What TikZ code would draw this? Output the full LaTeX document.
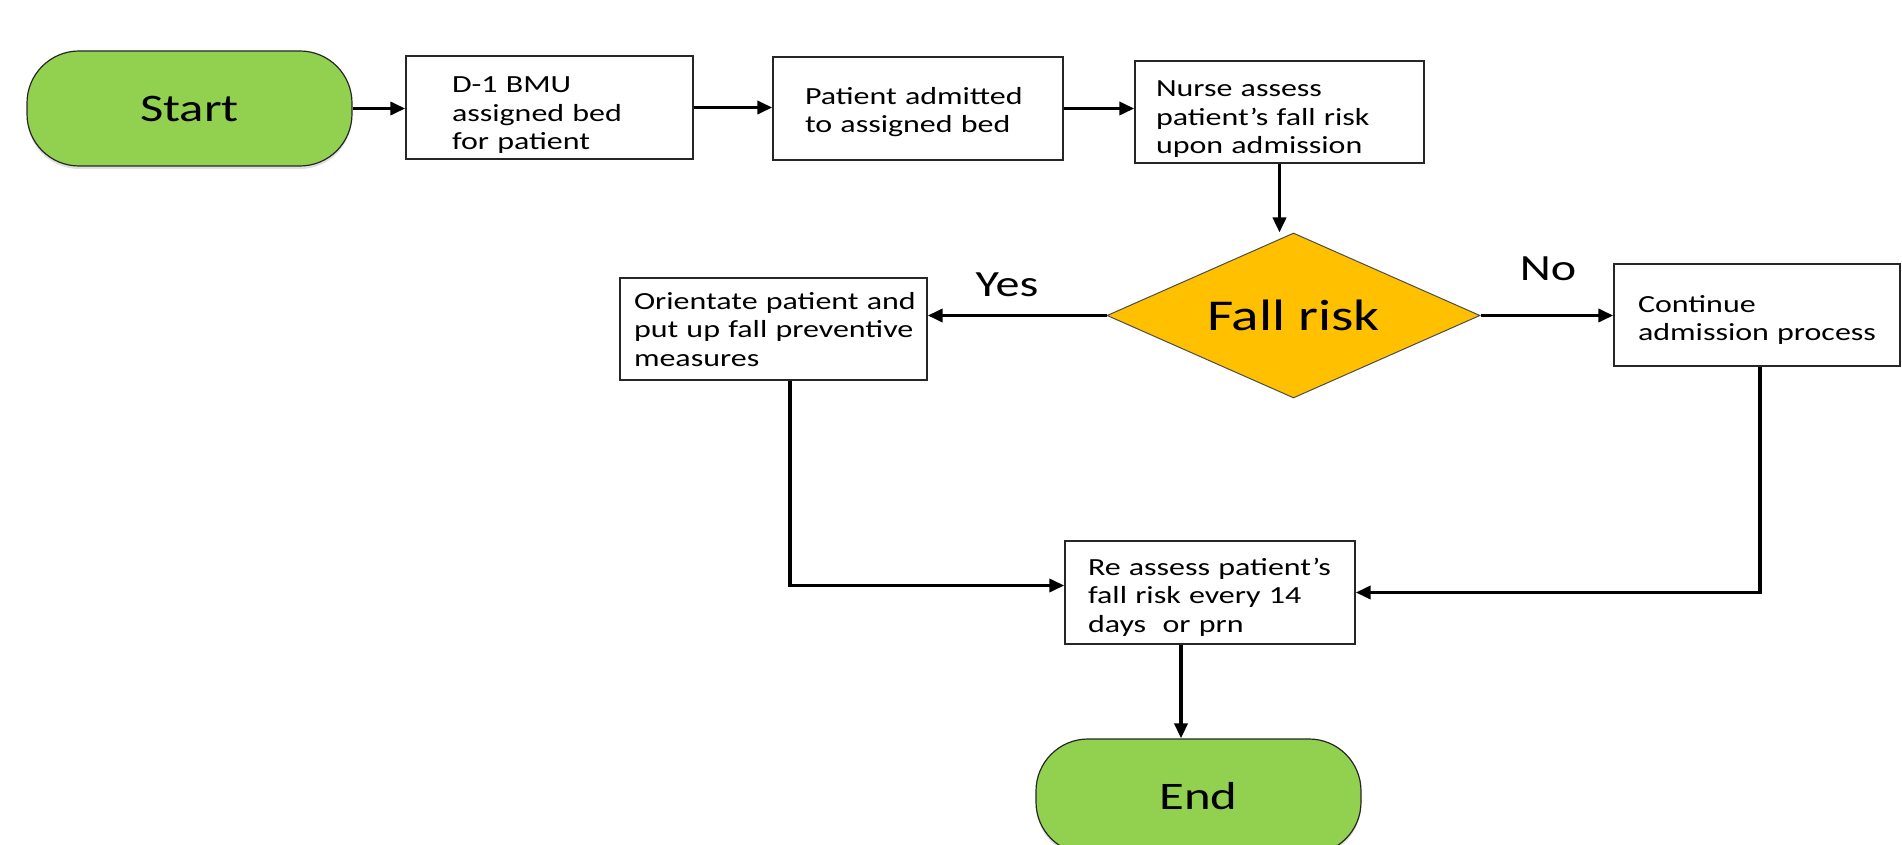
\documentclass[tikz,border=0pt]{standalone}
\usepackage{fontspec}
\setmainfont{Carlito}[FakeStretch=1.3]
\usetikzlibrary{shapes.geometric,arrows.meta,shadows}
\definecolor{termgreen}{HTML}{92D050}
\definecolor{decgold}{HTML}{FFC000}
\newcommand\firstlnraise[1]{\rule{0pt}{\dimexpr 9pt+#1\relax}}
\begin{document}
\begin{tikzpicture}[x=0.5pt,y=-0.5pt,
  terminal/.style={draw=black!85, line width=0.6pt, fill=termgreen, rounded corners=26pt,
    minimum width=162.5pt, minimum height=57.5pt, inner sep=0pt,
    font=\fontsize{19.5}{23}\selectfont,
    drop shadow={opacity=0.25, shadow xshift=0pt, shadow yshift=-1.5pt}},
  procbox/.style={draw=black!85, line width=0.7pt, fill=white, minimum height=51.5pt,
    align=left, inner ysep=1pt, font=\fontsize{12.3}{14.2}\selectfont},
  decision/.style={diamond, draw=black!70, line width=0.5pt, fill=decgold,
    shape aspect=2.26, minimum width=186.5pt, minimum height=82.5pt, inner sep=0pt,
    font=\fontsize{22}{26}\selectfont},
  flow/.style={line width=1.8pt, -{Triangle[length=7.5pt,width=6.5pt]}},
  lbl/.style={font=\fontsize{18.5}{22}\selectfont, inner sep=0pt}]
\useasboundingbox (0,0) rectangle (1902,845);

\node[terminal] (start) at (189.5,108.5) {Start};
\node[procbox, text width=97.5pt, inner xsep=23pt] (d1) at (549.5,107.5)
  {\firstlnraise{6.7pt}\mbox{D-1 BMU}\\\mbox{assigned bed}\\\mbox{for patient}};
\node[procbox, text width=113pt, inner xsep=16pt] (admit) at (918,108.5)
  {\firstlnraise{3pt}\mbox{Patient admitted}\\\mbox{to assigned bed}};
\node[procbox, text width=123.5pt, inner xsep=10.5pt, minimum height=51pt] (nurse) at (1279.5,112)
  {\firstlnraise{6pt}\mbox{Nurse assess}\\\mbox{patient’s fall risk}\\\mbox{upon admission}};
\node[decision] (dec) at (1293.5,315.5) {Fall risk};
\node[procbox, text width=139.5pt, inner xsep=7pt, minimum height=51pt] (orient) at (773.5,329)
  {\firstlnraise{0pt}\mbox{Orientate patient and}\\\mbox{put up fall preventive}\\\mbox{measures}};
\node[procbox, text width=119pt, inner xsep=12pt, minimum height=51pt] (cont) at (1757,315)
  {\firstlnraise{4.2pt}\mbox{Continue}\\\mbox{admission process}};
\node[procbox, text width=122pt, inner xsep=11.5pt] (reassess) at (1210,592.5)
  {\firstlnraise{4.2pt}\mbox{Re assess patient’s}\\\mbox{fall risk every 14}\\\mbox{days~ or prn}};
\node[terminal] (term) at (1198.5,796.5) {End};

\node[lbl] (yes) at (1007,285) {Yes};
\node[lbl] (no) at (1548,269) {No};

\draw[flow] (start.east) -- (start.east -| d1.west);
\draw[flow] (d1.east) -- (d1.east -| admit.west);
\draw[flow] (admit.east) -- (admit.east -| nurse.west);
\draw[flow] (nurse.south) -- (nurse.south |- dec.north);
\draw[flow] (dec.west) -- (dec.west -| orient.east);
\draw[flow] (dec.east) -- (dec.east -| cont.west);
\draw[flow] ([xshift=8.25pt]orient.south) |- ([yshift=3.5pt]reassess.west);
\draw[flow] ([xshift=1.5pt]cont.south) |- (reassess.east);
\draw[flow] ([xshift=-14.5pt]reassess.south) -- ([xshift=-14.5pt]reassess.south |- term.north);
\end{tikzpicture}
\end{document}
